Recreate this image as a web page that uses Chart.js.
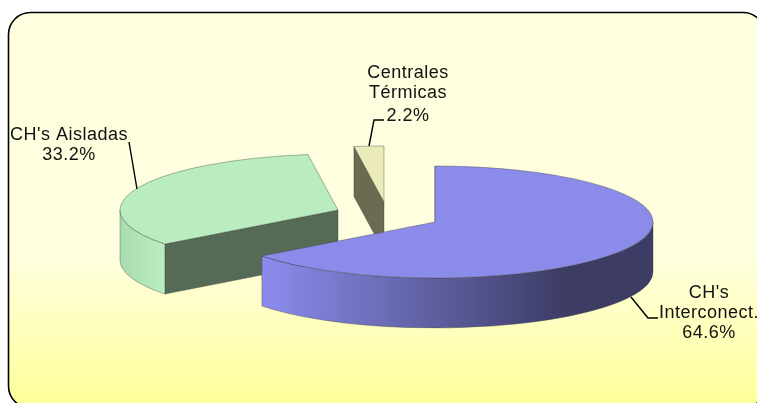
<!DOCTYPE html>
<html><head><meta charset="utf-8">
<style>html,body{margin:0;padding:0;background:#fff}#w{width:757px;height:403px}</style>
<script src="https://cdn.jsdelivr.net/npm/chart.js@4"></script>
</head><body><div id="w"><canvas id="c" width="757" height="403"></canvas></div>
<script>
const categories = ["CH's Interconect.", "CH's Aisladas", "Centrales Térmicas"];
const shares = [64.6, 33.2, 2.2];
const labelLines = [["CH's", "Interconect."], ["CH's Aisladas"], ["Centrales", "Térmicas"]];
const topColors = ["#8B8BE9", "#B9ECBE", "#EAEABA"];
const cutColors = ["#3C3C64", "#566B55", "#6B6B52"];
const sideStart = ["#8C8CEE", "#A9DCAE", "#EAEABA"];
const sideEnd = ["#3C3C64", "#B9ECBE", "#EAEABA"];

const RX = 218, RY = 56, DEPTH = 50;
const sliceShift = [[56.5, 20.5], [-40.5, 8.5], [5.5, 0.5]];
const labelAnchors = [[709, 293], [69, 135], [408, 73]];
const lineHeight = [20, 20, 20];
const pctLift = [0, 0, 3];
const leaders = [
  [[631, 297], [648, 318], [658, 318]],
  [[129, 142], [137, 189]],
  [[369, 146], [374, 120], [384, 120]]
];

const pie3d = {
  id: 'pie3d',
  beforeDraw(chart) {
    const ctx = chart.ctx;
    ctx.save();
    const g = ctx.createLinearGradient(0, 12, 0, 405);
    g.addColorStop(0, '#FFFFE0');
    g.addColorStop(0.62, '#FFFFDF');
    g.addColorStop(1, '#FFFF99');
    ctx.beginPath();
    ctx.roundRect(8.5, 12.5, 756.5, 395.5, 22);
    ctx.fillStyle = g;
    ctx.fill();
    ctx.lineWidth = 1.6;
    ctx.strokeStyle = '#000';
    ctx.stroke();
    ctx.restore();
  },
  beforeDatasetsDraw(chart) {
    const ctx = chart.ctx;
    const arcs = chart.getDatasetMeta(0).data;
    const order = [2, 1, 0];
    order.forEach(i => {
      const el = arcs[i];
      const R = el.outerRadius;
      const cx = el.x + sliceShift[i][0], cy = el.y + sliceShift[i][1];
      const a0 = el.startAngle, a1 = el.endAngle;
      const edge = 'rgba(60,60,60,0.55)';
      // cut face at start angle
      const px = cx + RX * Math.cos(a0), py = cy + RY * Math.sin(a0);
      ctx.save();
      ctx.beginPath();
      ctx.moveTo(cx, cy); ctx.lineTo(px, py); ctx.lineTo(px, py + DEPTH); ctx.lineTo(cx, cy + DEPTH); ctx.closePath();
      ctx.fillStyle = cutColors[i]; ctx.fill();
      ctx.lineWidth = 0.7; ctx.strokeStyle = edge; ctx.stroke();
      // outer wall, only the part of the rim facing the viewer
      const s = Math.max(a0, 0), e = Math.min(a1, Math.PI);
      if (e > s) {
        const xs = cx + RX * Math.cos(s), xe = cx + RX * Math.cos(e);
        const g = ctx.createLinearGradient(Math.min(xs, xe), 0, Math.max(xs, xe), 0);
        g.addColorStop(0, sideStart[i]);
        g.addColorStop(i === 0 ? 0.78 : 1, sideEnd[i]);
        g.addColorStop(1, sideEnd[i]);
        ctx.beginPath();
        ctx.ellipse(cx, cy, RX, RY, 0, s, e);
        ctx.ellipse(cx, cy + DEPTH, RX, RY, 0, e, s, true);
        ctx.closePath();
        ctx.fillStyle = g; ctx.fill();
        ctx.strokeStyle = edge; ctx.stroke();
      }
      // top face drawn by the library's arc element
      ctx.translate(cx, cy);
      ctx.scale(RX / R, RY / R);
      ctx.translate(-el.x, -el.y);
      el.draw(ctx, chart.chartArea);
      ctx.restore();
      ctx.save();
      ctx.beginPath();
      ctx.moveTo(cx, cy);
      ctx.ellipse(cx, cy, RX, RY, 0, a0, a1);
      ctx.closePath();
      ctx.lineWidth = 0.7; ctx.strokeStyle = edge; ctx.stroke();
      ctx.restore();
    });
    return false;
  },
  afterDraw(chart) {
    const ctx = chart.ctx;
    ctx.save();
    ctx.strokeStyle = '#000';
    ctx.lineWidth = 1.4;
    leaders.forEach(pts => {
      ctx.beginPath();
      pts.forEach((p, k) => k ? ctx.lineTo(p[0], p[1]) : ctx.moveTo(p[0], p[1]));
      ctx.stroke();
    });
    ctx.fillStyle = '#111';
    ctx.font = '18px "Liberation Sans", Arial, sans-serif';
    ctx.letterSpacing = '0.5px';
    ctx.textAlign = 'center';
    ctx.textBaseline = 'middle';
    labelLines.forEach((lines, i) => {
      const [x, y] = labelAnchors[i];
      const all = lines.concat(shares[i].toFixed(1) + '%');
      all.forEach((t, k) => {
        const extra = k === all.length - 1 ? pctLift[i] : 0;
        ctx.fillText(t, x, y + k * lineHeight[i] + extra);
      });
    });
    ctx.restore();
  }
};

new Chart(document.getElementById('c'), {
  type: 'pie',
  data: {
    labels: categories,
    datasets: [{ data: shares, backgroundColor: topColors, borderWidth: 0, hoverOffset: 0 }]
  },
  options: {
    responsive: false,
    animation: false,
    devicePixelRatio: 1,
    layout: { padding: 0 },
    plugins: { legend: { display: false }, tooltip: { enabled: false }, title: { display: false } }
  },
  plugins: [pie3d]
});
</script></body></html>
